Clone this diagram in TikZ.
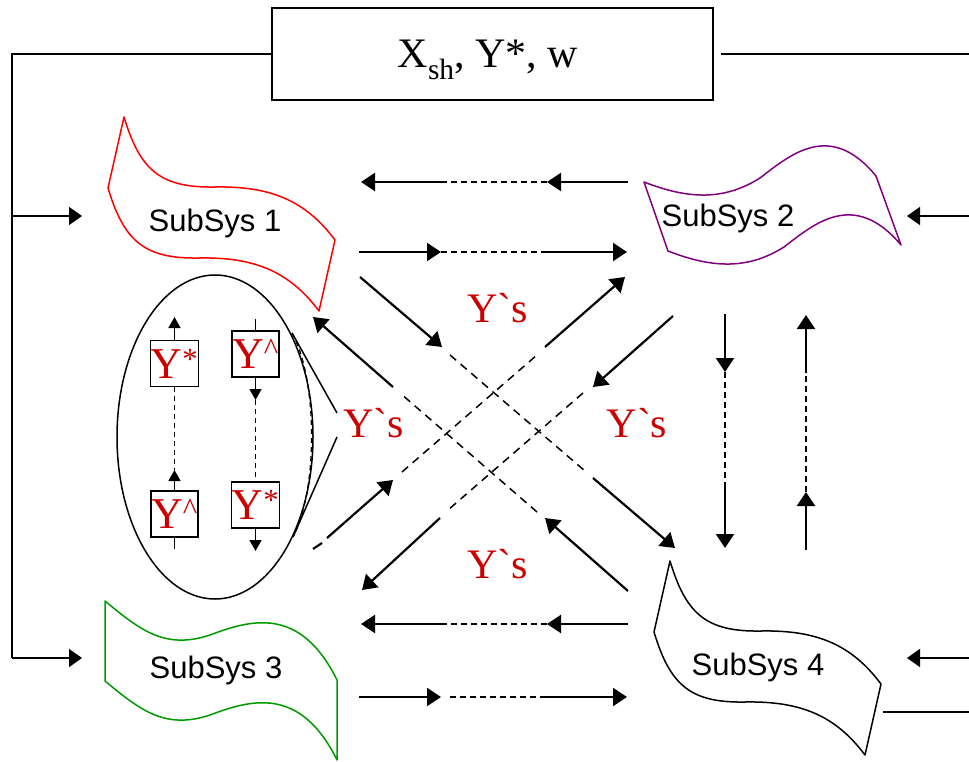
\documentclass[tikz,border=0pt]{standalone}
\usepackage{fontspec}
\newfontfamily\tms{Liberation Serif}
\newfontfamily\ari{Liberation Sans}
\usetikzlibrary{arrows.meta}
\definecolor{ared}{RGB}{204,0,0}
\definecolor{spurple}{RGB}{128,0,128}
\definecolor{sgreen}{RGB}{0,153,0}
\begin{document}
\begin{tikzpicture}[x=1pt,y=-1pt,
  conn/.style={line width=2.2pt,-{Triangle[length=14pt,width=18pt]}},
  plainline/.style={line width=2.2pt},
  dsh/.style={line width=1.5pt,dash pattern=on 6pt off 4pt},
  ddsh/.style={line width=1.5pt,dash pattern=on 8pt off 6pt},
  feed/.style={line width=1.6pt},
  feedarrow/.style={line width=1.6pt,-{Triangle[length=13pt,width=18pt]}},
  small/.style={line width=1.5pt,-{Triangle[length=11pt,width=12pt]}},
  smallline/.style={line width=1.5pt},
  sdsh/.style={line width=1.3pt,dash pattern=on 5pt off 4pt},
  outline/.style={line width=1.5pt,line join=round},
  subtxt/.style={font=\ari\fontsize{31}{31}\selectfont,anchor=base,inner sep=0pt},
  ys/.style={font=\tms\fontsize{42}{42}\selectfont,text=ared,anchor=base,inner sep=0pt},
  ybox/.style={draw,line width=1.4pt,minimum width=47pt,minimum height=46pt,inner sep=0pt,text=ared,font=\tms\fontsize{44}{44}\selectfont}
]
\useasboundingbox (0,0) rectangle (969,762);

% top box
\node[draw,line width=1.5pt,minimum width=441pt,minimum height=92pt,inner sep=0pt] (top) at (492.5,54) {};
\node[font=\tms\fontsize{42}{42}\selectfont,anchor=base,inner sep=0pt] (toptxt) at (488,68) {X\textsubscript{sh}, Y*, w};

% feed lines
\coordinate (fl0) at (12,54);
\coordinate (fl1) at (12,216);
\coordinate (fl2) at (12,658);
\coordinate (fa1) at (82,216);
\coordinate (fa2) at (82,658);
\draw[feed] (top.west) -- (fl0) -- (fl2);
\draw[feedarrow] (fl1) -- (fa1);
\draw[feedarrow] (fl2) -- (fa2);
\coordinate (fr0) at (969,54);
\draw[feed] (top.east) ++(7,0) -- (fr0);
\coordinate (rin2s) at (969,216); \coordinate (rin2e) at (907,216);
\coordinate (rin4s) at (969,658); \coordinate (rin4e) at (907,658);
\coordinate (rout4s) at (883,712); \coordinate (rout4e) at (969,712);
\draw[feedarrow] (rin2s) -- (rin2e);
\draw[feedarrow] (rin4s) -- (rin4e);
\draw[feed] (rout4s) -- (rout4e);

% SubSys 1 (red)
\draw[outline,red] (124,117) .. controls (140,170) and (160,188) .. (215,187)
  .. controls (270,186) and (305,200) .. (335,240) -- (319,311)
  .. controls (289,271) and (254,257) .. (199,258)
  .. controls (144,259) and (124,241) .. (108,188) -- cycle;
\node[subtxt] (s1) at (215,232) {SubSys 1};

% SubSys 4 (black), same outline shifted
\begin{scope}[shift={(546,444)}]
\draw[outline,black] (124,117) .. controls (140,170) and (160,188) .. (215,187)
  .. controls (270,186) and (305,200) .. (335,240) -- (319,311)
  .. controls (289,271) and (254,257) .. (199,258)
  .. controls (144,259) and (124,241) .. (108,188) -- cycle;
\end{scope}
\node[subtxt] (s4) at (758,675) {SubSys 4};

% SubSys 2 (purple)
\draw[outline,spurple] (644,182) .. controls (690,200) and (725,200) .. (760,178)
  .. controls (790,155) and (830,120) .. (876,176) -- (901,245)
  .. controls (854,189) and (814,224) .. (784,247)
  .. controls (749,269) and (714,269) .. (668,251) -- cycle;
\node[subtxt] (s2) at (728,226) {SubSys 2};

% SubSys 3 (green)
\draw[outline,sgreen] (105,601) .. controls (140,630) and (165,650) .. (210,635)
  .. controls (250,620) and (300,605) .. (337,680) -- (337,760)
  .. controls (300,685) and (250,700) .. (210,715)
  .. controls (165,730) and (140,710) .. (105,681) -- cycle;
\node[subtxt] (s3) at (216,678) {SubSys 3};

% horizontal arrows, top
\coordinate (h1a) at (628,182); \coordinate (h1b) at (547,182);
\coordinate (h1c) at (442,182); \coordinate (h1d) at (361,182);
\draw[conn] (h1a) -- (h1b); \draw[dsh] (h1b) -- (h1c); \draw[conn] (h1c) -- (h1d);
\coordinate (h2a) at (359,252); \coordinate (h2b) at (441,252);
\coordinate (h2c) at (545,252); \coordinate (h2d) at (627,252);
\draw[conn] (h2a) -- (h2b); \draw[dsh] (h2b) -- (h2c); \draw[conn] (h2c) -- (h2d);
% horizontal arrows, bottom
\coordinate (h3a) at (628,624); \coordinate (h3b) at (547,624);
\coordinate (h3c) at (442,624); \coordinate (h3d) at (361,624);
\draw[conn] (h3a) -- (h3b); \draw[dsh] (h3b) -- (h3c); \draw[conn] (h3c) -- (h3d);
\coordinate (h4a) at (359,697); \coordinate (h4b) at (441,697);
\coordinate (h4c) at (450,697); \coordinate (h4d) at (545,697); \coordinate (h4e) at (627,697);
\draw[conn] (h4a) -- (h4b); \draw[dsh] (h4c) -- (h4d); \draw[conn] (h4d) -- (h4e);

% vertical arrows, right
\coordinate (v1a) at (725,314); \coordinate (v1b) at (725,372);
\coordinate (v1c) at (725,482); \coordinate (v1d) at (725,548);
\draw[conn] (v1a) -- (v1b); \draw[dsh] (v1b) -- (v1c); \draw[conn] (v1c) -- (v1d);
\coordinate (v2a) at (806,550); \coordinate (v2b) at (806,492);
\coordinate (v2c) at (806,373); \coordinate (v2d) at (806,315);
\draw[conn] (v2a) -- (v2b); \draw[dsh] (v2b) -- (v2c); \draw[conn] (v2c) -- (v2d);

% diagonal A: SubSys1 -> SubSys4
\coordinate (da1) at (360,277); \coordinate (da2) at (442,347);
\coordinate (da3) at (450,355); \coordinate (da4) at (585,471);
\coordinate (da5) at (593,478); \coordinate (da6) at (675,548);
\draw[conn] (da1) -- (da2); \draw[ddsh] (da3) -- (da4); \draw[conn] (da5) -- (da6);
% diagonal B: SubSys4 -> SubSys1
\coordinate (db1) at (628,591); \coordinate (db2) at (545,518);
\coordinate (db3) at (537,512); \coordinate (db4) at (400,393);
\coordinate (db5) at (393,387); \coordinate (db6) at (313,317);
\draw[conn] (db1) -- (db2); \draw[ddsh] (db3) -- (db4); \draw[conn] (db5) -- (db6);
% diagonal C: SubSys3 -> SubSys2
\coordinate (dc0) at (313,549); \coordinate (dc0b) at (322,543);
\coordinate (dc1) at (327,538); \coordinate (dc2) at (393,480);
\coordinate (dc3) at (402,472); \coordinate (dc4) at (537,355);
\coordinate (dc5) at (545,347); \coordinate (dc6) at (625,277);
\draw[plainline] (dc0) -- (dc0b);
\draw[conn] (dc1) -- (dc2); \draw[ddsh] (dc3) -- (dc4); \draw[conn] (dc5) -- (dc6);
% diagonal D: SubSys2 -> SubSys3
\coordinate (dd1) at (673,316); \coordinate (dd2) at (593,387);
\coordinate (dd3) at (583,393); \coordinate (dd4) at (448,510);
\coordinate (dd5) at (440,518); \coordinate (dd6) at (362,590);
\draw[conn] (dd1) -- (dd2); \draw[ddsh] (dd3) -- (dd4); \draw[conn] (dd5) -- (dd6);

% Y`s labels
\node[ys] (ytop) at (498,322) {Y\symbol{96}s};
\node[ys] (yleft) at (374,437) {Y\symbol{96}s};
\node[ys] (yright) at (637,437) {Y\symbol{96}s};
\node[ys] (ybot) at (498,578) {Y\symbol{96}s};

% ellipse with boxes
\draw[line width=1.5pt] (215,437) ellipse [x radius=98pt, y radius=162pt];
\coordinate (ct1) at (292,333); \coordinate (ct2) at (337,413);
\coordinate (ct3) at (337,437); \coordinate (ct4) at (293,537);
\draw[smallline] (ct1) -- (ct2);
\draw[smallline] (ct3) -- (ct4);
\draw[sdsh] (ct1) .. controls (318,380) and (318,490) .. (ct4);

\node[ybox] (b1) at (174.5,363.5) {Y\textsuperscript{*}};
\node[ybox] (b2) at (174.5,514) {Y\textsuperscript{\^{}}};
\node[ybox] (b3) at (255.5,354) {Y\textsuperscript{\^{}}};
\node[ybox] (b4) at (255.5,505) {Y\textsuperscript{*}};
\coordinate (e1) at (174.5,317);
\coordinate (e2) at (174.5,470);
\coordinate (e3) at (174.5,549);
\coordinate (e4) at (255.5,319);
\coordinate (e5) at (255.5,400);
\coordinate (e6) at (255.5,551);
\draw[small] (b1.north) -- (e1);
\draw[sdsh] (b1.south) -- (e2);
\draw[small] (b2.north) -- (e2);
\draw[smallline] (b2.south) -- (e3);
\draw[smallline] (e4) -- (b3.north);
\draw[small] (b3.south) -- (e5);
\draw[sdsh] (e5) -- (b4.north);
\draw[small] (b4.south) -- (e6);
\end{tikzpicture}
\end{document}
